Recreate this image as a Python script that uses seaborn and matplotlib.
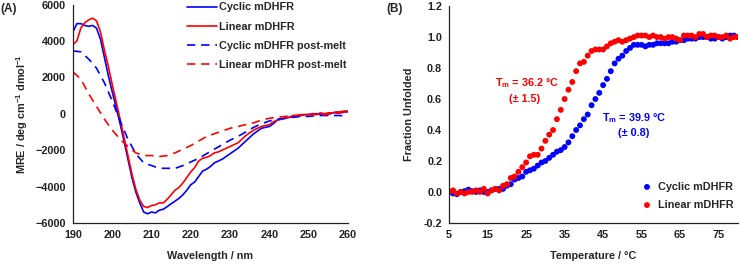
import matplotlib
matplotlib.use("Agg")
import matplotlib.pyplot as plt
import seaborn as sns
import pandas as pd

# ---------------- Panel A data (CD spectra) ----------------
wl_native = list(range(190, 261))
cyclic_native = [4500, 4950, 4950, 4850, 4800, 4850, 4700, 4100, 3100, 2100,
                 1200, 350, -550, -1500, -2500, -3500, -4300, -4900, -5400, -5500,
                 -5400, -5450, -5300, -5250, -5100, -4950, -4800, -4650, -4450, -4200,
                 -3900, -3750, -3450, -3150, -3050, -2900, -2700, -2600, -2500, -2350,
                 -2200, -2050, -1900, -1700, -1500, -1300, -1100, -950, -800, -750,
                 -700, -550, -350, -300, -250, -200, -150, -100, -100, -50,
                 -50, 0, 0, -50, -50, -50, 50, 50, 50, 100, 100]
linear_native = [3800, 4000, 4700, 5000, 5150, 5250, 5100, 4500, 3500, 2600,
                 1600, 650, -300, -1300, -2300, -3300, -4150, -4750, -5100, -5150,
                 -5050, -5000, -4900, -4900, -4700, -4450, -4200, -4050, -3800, -3500,
                 -3200, -2950, -2600, -2450, -2400, -2300, -2150, -2100, -2000, -1900,
                 -1800, -1700, -1600, -1400, -1200, -1050, -900, -800, -700, -650,
                 -600, -450, -350, -300, -250, -200, -100, -100, -50, -50,
                 -50, 0, -50, 50, 0, 50, 50, 100, 100, 150, 150]
wl_melt = list(range(190, 261, 2))
cyclic_melt = [3450, 3400, 3000, 2500, 1700, 700, -400, -1400, -2200, -2700,
               -2850, -3000, -3000, -3000, -2850, -2650, -2450, -2200, -1950, -1700,
               -1450, -1250, -1000, -750, -550, -400, -300, -250, -200, -150,
               -150, -100, -100, -100, -100, -150]
linear_melt = [2300, 1900, 1100, 400, -300, -900, -1400, -1800, -2150, -2300,
               -2300, -2350, -2300, -2150, -1950, -1750, -1500, -1250, -1100, -950,
               -800, -700, -600, -500, -350, -250, -200, -150, -100, -100,
               -50, -50, -50, 0, 50, 100]

# ---------------- Panel B data (thermal melt) ----------------
temps = list(range(5, 81))
cyclic_frac = [0.0, -0.01, -0.015, 0.0, 0.005, 0.015, 0.005, 0.0, 0.01, 0.0,
               0.0, 0.01, 0.02, 0.02, 0.02, 0.04, 0.05, 0.08, 0.09, 0.10,
               0.13, 0.14, 0.15, 0.17, 0.19, 0.20, 0.22, 0.24, 0.26, 0.27,
               0.29, 0.32, 0.36, 0.40, 0.43, 0.47, 0.50, 0.56, 0.60, 0.64,
               0.69, 0.73, 0.78, 0.83, 0.86, 0.88, 0.91, 0.93, 0.95, 0.95,
               0.95, 0.94, 0.95, 0.95, 0.96, 0.96, 0.96, 0.96, 0.97, 0.97,
               0.98, 0.98, 0.99, 0.99, 0.99, 1.0, 1.0, 1.0, 0.99, 0.99,
               1.0, 0.99, 1.0, 1.01, 1.01, 1.0]
linear_frac = [0.0, 0.01, -0.01, 0.0, -0.01, 0.0, 0.0, 0.01, 0.0, 0.02,
               -0.01, 0.01, 0.02, 0.01, 0.04, 0.05, 0.09, 0.10, 0.13, 0.16,
               0.19, 0.23, 0.24, 0.24, 0.28, 0.33, 0.37, 0.40, 0.47, 0.53,
               0.60, 0.66, 0.71, 0.78, 0.83, 0.84, 0.88, 0.91, 0.92, 0.92,
               0.92, 0.94, 0.96, 0.97, 0.98, 0.97, 0.98, 0.99, 1.00, 1.01,
               1.01, 1.01, 1.0, 1.01, 1.0, 1.0, 0.99, 1.0, 1.0, 0.99,
               0.98, 1.01, 1.01, 1.01, 1.0, 1.02, 1.02, 1.0, 1.01, 1.01,
               1.0, 1.0, 1.01, 0.99, 1.0, 1.0]

x_ticks_a = [190, 200, 210, 220, 230, 240, 250, 260]
y_ticks_a = [-6000, -4000, -2000, 0, 2000, 4000, 6000]
x_ticks_b = [5, 15, 25, 35, 45, 55, 65, 75]
y_ticks_b = [-0.2, 0.0, 0.2, 0.4, 0.6, 0.8, 1.0, 1.2]

BLUE = "#0000FF"
RED = "#FF0000"
FONT = "Liberation Sans"

sns.set_theme(style="white")
plt.rcParams["font.family"] = [FONT, "DejaVu Sans"]
plt.rcParams["font.weight"] = "bold"
plt.rcParams["mathtext.fontset"] = "custom"
plt.rcParams["mathtext.rm"] = FONT + ":bold"
plt.rcParams["mathtext.it"] = FONT + ":bold"
plt.rcParams["mathtext.bf"] = FONT + ":bold"
plt.rcParams["mathtext.default"] = "rm"
FS = 7.8

fig = plt.figure(figsize=(7.4, 2.66), dpi=100)
axA = fig.add_axes([0.0986, 0.162, 0.3716, 0.821])
axB = fig.add_axes([0.607, 0.162, 0.390, 0.815])

# ---- Panel A ----
dA1 = pd.DataFrame({"wl": wl_native, "mre": cyclic_native})
dA2 = pd.DataFrame({"wl": wl_native, "mre": linear_native})
dA3 = pd.DataFrame({"wl": wl_melt, "mre": cyclic_melt})
dA4 = pd.DataFrame({"wl": wl_melt, "mre": linear_melt})
sns.lineplot(data=dA1, x="wl", y="mre", ax=axA, color=BLUE, lw=1.2, label="Cyclic mDHFR")
sns.lineplot(data=dA2, x="wl", y="mre", ax=axA, color=RED, lw=1.2, label="Linear mDHFR")
sns.lineplot(data=dA3, x="wl", y="mre", ax=axA, color=BLUE, lw=1.2, dashes=(5, 3.5),
             label="Cyclic mDHFR post-melt")
sns.lineplot(data=dA4, x="wl", y="mre", ax=axA, color=RED, lw=1.2, dashes=(5, 3.5),
             label="Linear mDHFR post-melt")
axA.set_xlim(190, 260)
axA.set_ylim(-6000, 6000)
axA.set_xticks(x_ticks_a)
axA.set_yticks(y_ticks_a)
axA.set_xlabel("Wavelength / nm", fontsize=FS, fontweight="bold", labelpad=8)
axA.set_ylabel("MRE / deg cm$^{-1}$ dmol$^{-1}$", fontsize=FS, fontweight="bold", labelpad=4)
leg = axA.legend(loc="upper right", bbox_to_anchor=(1.01, 1.03), frameon=False,
                 fontsize=FS, handlelength=2.8, handletextpad=0.15, labelspacing=0.85,
                 borderaxespad=0.0)
for t in leg.get_texts():
    t.set_fontweight("bold")
fig.text(0.0, 0.965, "(A)", fontsize=8.5, fontweight="bold", va="center", ha="left")

# ---- Panel B ----
dB1 = pd.DataFrame({"T": temps, "f": cyclic_frac})
dB2 = pd.DataFrame({"T": temps, "f": linear_frac})
sns.scatterplot(data=dB1, x="T", y="f", ax=axB, color=BLUE, s=18, edgecolor="none",
                label="Cyclic mDHFR")
sns.scatterplot(data=dB2, x="T", y="f", ax=axB, color=RED, s=18, edgecolor="none",
                label="Linear mDHFR")
axB.set_xlim(5, 80)
axB.set_ylim(-0.2, 1.2)
axB.set_xticks(x_ticks_b)
axB.set_yticks(y_ticks_b)
axB.set_yticklabels([f"{v:.1f}" for v in y_ticks_b])
axB.set_xlabel("Temperature / °C", fontsize=FS, fontweight="bold", labelpad=8)
axB.set_ylabel("Fraction Unfolded", fontsize=FS, fontweight="bold", labelpad=7)
legB = axB.legend(loc="lower right", bbox_to_anchor=(1.0, 0.04), frameon=False,
                  fontsize=FS, handletextpad=0.0, labelspacing=0.75, borderaxespad=0.0,
                  markerscale=1.0)
for t in legB.get_texts():
    t.set_fontweight("bold")
axB.text(25.3, 0.70, "T$_m$ = 36.2 °C", color=RED, fontsize=FS, fontweight="bold",
         ha="center", va="center")
axB.text(24.6, 0.60, "(± 1.5)", color=RED, fontsize=FS, fontweight="bold",
         ha="center", va="center")
axB.text(53.0, 0.48, "T$_m$ = 39.9 °C", color=BLUE, fontsize=FS, fontweight="bold",
         ha="center", va="center")
axB.text(53.0, 0.38, "(± 0.8)", color=BLUE, fontsize=FS, fontweight="bold",
         ha="center", va="center")
fig.text(0.522, 0.965, "(B)", fontsize=8.5, fontweight="bold", va="center", ha="left")

for ax in (axA, axB):
    sns.despine(ax=ax)
    for sp in ("left", "bottom"):
        ax.spines[sp].set_color("#222222")
        ax.spines[sp].set_linewidth(0.9)
    ax.tick_params(axis="both", length=0, labelsize=FS, pad=5, colors="#222222")
    for lab in ax.get_xticklabels() + ax.get_yticklabels():
        lab.set_fontweight("bold")
    ax.grid(False)

fig.savefig("out.png", dpi=100)
